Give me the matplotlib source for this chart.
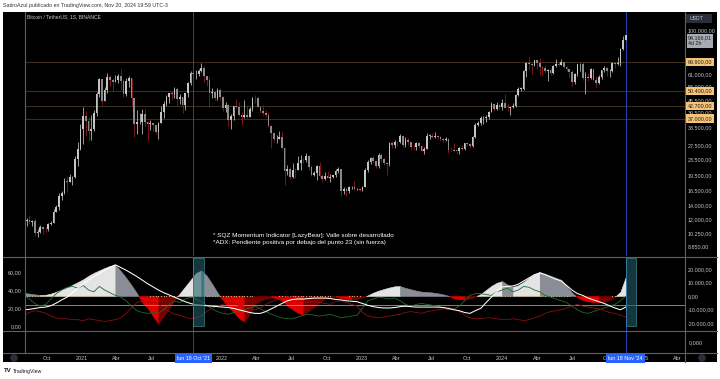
import numpy as np
import pandas as pd
import matplotlib
matplotlib.use("Agg")
import matplotlib.pyplot as plt
import matplotlib.dates as mdates
import matplotlib.transforms as mtrans
from matplotlib.patches import Rectangle, Circle
from matplotlib.ticker import NullLocator

plt.rcParams['font.family'] = ['Liberation Sans', 'DejaVu Sans']

# ---------------- DATA ----------------
first_week = "2020-08-03"          # weekly candles (1S), Monday start
first_open_k = 11.10

close_k = [
    # 2020
    11.68, 11.85, 11.65, 11.71, 10.25, 10.33, 10.92, 10.77, 10.67, 11.38, 11.50, 13.03, 13.76, 15.48, 15.96, 18.40,
    18.17, 19.15, 19.27, 23.47, 26.28, 33.00,
    # 2021
    38.15, 35.83, 32.26, 33.09, 39.25, 48.58, 57.49, 45.14, 50.97, 59.02, 57.35, 55.83, 57.06, 59.77, 56.15, 49.00,
    56.62, 58.24, 46.43, 34.66, 35.65, 35.80, 39.10, 35.50, 34.70, 35.29, 34.26, 31.78, 35.40, 39.85, 43.80, 47.05,
    49.30, 48.83, 51.75, 46.06, 47.26, 43.16, 49.23, 54.96, 61.53, 60.86, 61.30, 63.27, 65.50, 59.73, 57.27, 49.40,
    50.10, 46.68, 50.78, 47.30,
    # 2022
    41.86, 43.08, 36.28, 37.91, 42.40, 42.20, 38.38, 37.70, 38.42, 37.78, 41.26, 46.82, 46.40, 42.16, 40.38, 39.45,
    38.47, 34.06, 31.33, 29.43, 29.45, 29.92, 26.57, 20.55, 21.02, 19.30, 20.83, 20.79, 22.58, 23.30, 23.17, 24.30,
    21.52, 19.55, 19.99, 21.80, 19.42, 18.80, 19.31, 19.08, 19.20, 19.56, 20.63, 20.90, 16.33, 16.70, 16.46, 17.09,
    17.10, 16.78, 16.84, 16.61,
    # 2023
    17.13, 20.88, 22.71, 23.75, 22.93, 21.82, 24.64, 23.55, 22.43, 22.13, 27.99, 27.48, 28.47, 28.33, 30.30, 27.59,
    29.23, 28.43, 26.92, 26.75, 28.07, 27.12, 25.84, 26.33, 30.54, 30.59, 30.17, 30.29, 30.08, 29.28, 29.04, 29.43,
    26.09, 26.01, 25.84, 25.83, 26.53, 26.25, 27.98, 27.92, 27.16, 29.99, 34.53, 35.01, 37.06, 37.36, 37.45, 39.97,
    43.79, 41.37, 43.01, 42.28,
    # 2024
    43.94, 41.73, 41.58, 42.03, 42.58, 48.30, 51.66, 51.73, 63.11, 68.96, 68.37, 67.21, 71.28, 69.36, 65.66, 64.94,
    63.12, 63.89, 61.48, 66.94, 68.50, 67.76, 69.65, 66.20, 64.25, 62.68, 55.86, 60.79, 68.16, 68.25, 58.16, 58.71,
    58.43, 64.22, 57.30, 54.87, 59.19, 63.58, 65.60, 62.82, 62.85, 69.03, 67.94, 68.73, 80.37, 89.85, 94.17,
]

high_k = [
    12.05, 12.10, 12.47, 11.80, 12.09, 10.75, 11.18, 10.99, 10.95, 11.49, 11.72, 13.35, 14.10, 15.96, 16.48, 18.95,
    19.49, 19.92, 19.42, 24.30, 28.40, 34.80,
    41.95, 40.10, 37.85, 38.53, 40.95, 49.70, 58.35, 57.53, 52.64, 61.84, 60.63, 58.42, 60.20, 61.20, 64.85, 57.50,
    58.45, 59.60, 58.00, 46.66, 40.84, 39.48, 41.30, 41.00, 36.00, 36.60, 35.10, 34.60, 35.50, 42.60, 45.30, 48.15,
    49.50, 50.50, 52.90, 52.95, 48.80, 47.40, 49.40, 56.00, 62.90, 67.00, 63.70, 64.30, 69.00, 66.40, 59.40, 59.20,
    51.90, 50.40, 51.87, 52.10,
    47.57, 44.50, 43.50, 38.90, 42.65, 45.85, 44.75, 40.00, 45.40, 42.60, 42.30, 47.00, 48.20, 47.50, 42.40, 42.98,
    40.80, 40.00, 34.30, 31.45, 30.60, 32.20, 31.75, 26.90, 21.87, 21.55, 22.50, 21.20, 24.28, 24.67, 23.65, 25.20,
    24.45, 21.90, 20.58, 21.85, 22.80, 19.95, 20.35, 20.48, 19.95, 19.70, 21.10, 21.50, 21.05, 17.20, 16.90, 17.38,
    17.42, 18.40, 16.95, 16.98,
    17.40, 21.26, 23.35, 23.95, 24.25, 23.15, 25.25, 25.00, 23.88, 22.60, 28.50, 28.85, 29.20, 28.80, 31.00, 30.50,
    30.00, 29.80, 28.60, 27.67, 28.45, 28.45, 27.35, 26.80, 31.43, 31.00, 31.50, 31.80, 30.45, 30.35, 29.75, 30.25,
    29.70, 26.80, 28.14, 26.10, 26.85, 27.50, 28.05, 28.60, 28.00, 30.30, 35.20, 35.98, 37.98, 37.98, 38.42, 40.25,
    44.70, 43.45, 44.40, 43.70,
    45.88, 48.97, 43.58, 42.25, 43.85, 48.50, 52.82, 52.99, 64.00, 69.99, 73.78, 68.90, 71.73, 71.30, 72.80, 66.87,
    67.20, 64.75, 65.50, 67.70, 71.98, 70.00, 71.95, 70.20, 66.94, 64.50, 63.86, 61.40, 68.37, 69.40, 70.08, 62.75,
    61.80, 65.00, 64.48, 59.80, 60.65, 64.13, 66.50, 66.00, 64.48, 69.50, 69.50, 73.62, 81.50, 93.48, 94.90,
]

low_k = [
    10.95, 11.10, 11.36, 11.11, 9.88, 9.83, 10.20, 10.14, 10.37, 10.53, 11.20, 11.40, 12.95, 13.25, 14.80, 15.78,
    16.20, 18.10, 17.60, 19.00, 21.80, 26.00,
    27.70, 30.42, 28.85, 29.24, 32.30, 37.98, 47.00, 43.00, 45.00, 49.27, 53.25, 50.43, 55.53, 55.40, 51.00, 47.00,
    47.45, 52.90, 42.00, 30.00, 31.20, 34.80, 31.00, 34.00, 28.80, 32.70, 32.08, 31.00, 29.30, 35.20, 37.30, 42.80,
    43.90, 46.20, 46.50, 42.80, 43.40, 39.60, 40.80, 46.90, 54.00, 59.80, 57.80, 59.40, 62.30, 55.60, 53.25, 42.00,
    46.75, 45.50, 45.55, 45.70,
    40.50, 39.65, 34.00, 32.90, 36.30, 41.70, 38.00, 34.30, 37.15, 37.15, 37.55, 40.50, 44.20, 42.10, 39.20, 38.50,
    37.70, 33.70, 26.70, 28.60, 28.00, 29.30, 26.20, 17.60, 19.60, 18.70, 19.00, 18.90, 20.75, 20.70, 22.40, 22.65,
    20.75, 19.50, 19.50, 18.55, 19.30, 18.12, 18.50, 18.95, 18.20, 18.95, 19.20, 20.05, 15.60, 15.80, 15.47, 16.02,
    16.87, 16.55, 16.55, 16.35,
    16.50, 17.10, 20.40, 22.30, 22.50, 21.35, 21.35, 22.75, 21.97, 19.55, 21.80, 26.60, 26.50, 27.20, 28.20, 27.00,
    26.94, 27.65, 26.00, 26.10, 25.90, 26.60, 25.35, 24.80, 26.25, 29.50, 29.70, 29.90, 29.50, 28.85, 28.60, 28.75,
    25.20, 25.80, 25.35, 24.90, 24.90, 26.00, 26.00, 27.25, 26.50, 26.95, 29.90, 33.90, 34.55, 35.00, 35.65, 36.90,
    39.95, 40.22, 40.55, 41.30,
    40.75, 41.50, 40.28, 38.55, 41.80, 42.25, 47.70, 50.52, 50.90, 59.00, 64.55, 60.77, 66.50, 64.50, 60.66, 59.60,
    62.40, 56.55, 60.19, 60.75, 66.30, 66.60, 67.60, 65.08, 63.38, 58.40, 53.50, 54.26, 59.90, 63.45, 57.10, 49.00,
    56.10, 57.80, 57.20, 52.55, 54.60, 57.50, 62.70, 59.83, 58.90, 62.65, 65.10, 67.50, 66.80, 80.20, 89.40,
]

# Indicators, read every 2 weeks (same dates as every other candle)
sqz_mom_k = [
    2.2, 1.8, 1.2, 0.8, 0.9, 1.8, 3.2, 4.8, 6.3, 8.3,
    10.3, 12.4, 15.0, 17.2, 19.0, 20.8, 22.2, 23.0, 18.5, 13.5,
    8.0, 2.0, -5.0, -9.0, -15.0, -20.5, -15.0, -9.5, -3.0, 2.0,
    7.0, 12.0, 17.0, 19.0, 15.0, 9.0, 2.5, -3.0, -8.0, -12.0,
    -16.5, -19.0, -13.5, -6.0, -3.5, -2.0, -1.0, -1.5, -3.5, -7.0,
    -10.0, -12.5, -14.0, -11.0, -8.0, -5.0, -2.0, -1.0, -0.5, -1.5,
    -2.3, -2.5, -2.2, -1.0, 0.5, 2.5, 4.0, 5.2, 6.3, 7.2,
    7.3, 6.0, 5.0, 4.0, 3.2, 3.0, 2.6, 2.0, 1.2, 0.2,
    -1.8, -2.3, -2.6, -2.0, -0.5, 1.5, 4.5, 7.5, 9.8, 11.0,
    8.5, 6.8, 8.0, 10.5, 13.5, 16.0, 17.8, 16.5, 15.0, 13.5,
    12.0, 7.5, 2.5, -1.0, -3.0, -4.0, -4.4, -4.6, -4.3, -3.0,
    -0.5, 3.0, 14.0,
]

adx = [
    18, 18.5, 19.5, 20.5, 21, 22.5, 25.5, 29, 32, 37,
    42, 46.5, 51, 55, 58.5, 62, 65.5, 68, 65, 62,
    58.5, 55, 51, 47, 43.5, 40, 37, 34.5, 32, 29.5,
    27, 25, 23.5, 23, 22.5, 22, 21.5, 21, 20.5, 19.5,
    18, 16.5, 15, 14, 14, 16, 19, 22, 25, 28,
    29.5, 30, 30, 30.5, 31, 31, 31, 30.5, 29.5, 29,
    28, 27.5, 27, 25, 23, 21.5, 20.5, 20, 20, 20.5,
    21.5, 22, 21.5, 21, 21, 21, 21, 21, 20.5, 19.5,
    18, 17, 15, 14, 17, 19.5, 26, 32, 38, 43.5,
    44, 44.5, 46.5, 50, 53.5, 57, 59, 57, 54.5, 52,
    50, 45, 40, 36, 34, 31, 29, 27, 25, 22.5,
    20, 18, 21,
]

di_plus = [
    34, 30, 25, 22, 24, 30, 36, 40, 43, 44,
    42, 45, 40, 38, 44, 40, 37, 34, 32, 28,
    22, 17, 15, 14, 15, 14, 18, 24, 28, 26,
    30, 32, 30, 27, 23, 19, 16, 14, 13, 15,
    17, 18, 20, 22, 19, 16, 13, 11, 9, 8,
    8, 10, 12, 13, 12, 11, 12, 13, 11, 9,
    10, 11, 12, 20, 28, 30, 32, 31, 30, 31,
    28, 24, 22, 24, 25, 24, 23, 22, 20, 18,
    19, 22, 28, 34, 36, 36, 35, 34, 38, 40,
    42, 38, 40, 44, 43, 40, 38, 34, 32, 30,
    28, 26, 22, 18, 15, 14, 16, 18, 20, 22,
    24, 28, 33,
]

di_minus = [
    12, 15, 17, 16, 14, 11, 9, 8, 8, 7,
    7, 6, 8, 7, 6, 5, 6, 7, 9, 14,
    20, 26, 28, 27, 26, 24, 20, 16, 13, 12,
    10, 8, 9, 11, 16, 20, 22, 24, 26, 25,
    23, 22, 20, 18, 20, 24, 27, 29, 31, 33,
    32, 29, 27, 26, 27, 26, 25, 24, 27, 28,
    26, 24, 22, 15, 11, 10, 9, 10, 11, 12,
    13, 15, 16, 15, 14, 16, 17, 18, 19, 20,
    19, 16, 12, 9, 8, 8, 9, 9, 8, 7,
    7, 8, 7, 6, 7, 9, 11, 14, 16, 17,
    18, 20, 22, 24, 22, 21, 20, 19, 17, 15,
    14, 12, 10,
]

# periods where the squeeze dots are visible on the zero line
sqz_dot_ranges = [("2020-08-03", "2021-04-05"), ("2021-06-28", "2021-09-06"),
                  ("2021-11-22", "2022-03-21"), ("2022-05-30", "2022-10-10"),
                  ("2022-11-28", "2022-12-26"), ("2023-11-06", "2024-06-24"),
                  ("2024-10-14", "2024-11-18")]

adx_level = 23
key_levels = [69900, 50400, 42700, 37000]
price_ticks = [100000, 71000, 61000, 53000, 45500, 39500, 33500, 27500, 23500,
               19500, 16500, 14000, 12000, 10250, 8850]
mom_ticks = [-20000, -10000, 0, 10000, 20000]
adx_ticks = [0, 20, 40, 60]
marked_dates = ["2021-10-18", "2024-11-18"]
marked_labels = ["lun 18 Oct '21", "lun 18 Nov '24"]
time_ticks = ["2020-10-01", "2021-01-01", "2021-04-01", "2021-07-01", "2021-10-01",
              "2022-01-01", "2022-04-01", "2022-07-01", "2022-10-01", "2023-01-01",
              "2023-04-01", "2023-07-01", "2023-10-01", "2024-01-01", "2024-04-01",
              "2024-07-01", "2024-10-01", "2025-01-01", "2025-04-01"]
time_labels = ["Oct", "2021", "Abr", "Jul", "Oct", "2022", "Abr", "Jul", "Oct", "2023",
               "Abr", "Jul", "Oct", "2024", "Abr", "Jul", "Oct", "2025", "Abr"]
last_price_label = "94.166,01\n4d 2h"
header = "SatiroAzul publicado en TradingView.com, Nov 20, 2024 19:59 UTC-3"
title = "Bitcoin / TetherUS, 1S, BINANCE"
note1 = "* SQZ Momentum Indicator [LazyBear]: Valle sobre desarrollado"
note2 = "*ADX: Pendiente positiva por debajo del punto 23 (sin fuerza)"

# ---------------- PREP ----------------
def fmt2(v, dec=2):
    s = f"{v:,.{dec}f}"
    return s.replace(",", "X").replace(".", ",").replace("X", ".")

weeks = pd.date_range(first_week, periods=len(close_k), freq="7D")
xd = mdates.date2num(weeks)
c = np.array(close_k) * 1000
o = np.array([first_open_k] + close_k[:-1]) * 1000
h = np.maximum(np.array(high_k) * 1000, np.maximum(o, c))
l = np.minimum(np.array(low_k) * 1000, np.minimum(o, c))
ix = xd[::2]
mom = np.array(sqz_mom_k) * 1000

XLIM = (mdates.date2num(pd.Timestamp("2020-08-05 10:00")),
        mdates.date2num(pd.Timestamp("2025-04-21 12:00")))

W, H = 720, 379
fig = plt.figure(figsize=(W / 100, H / 100), dpi=100)
fig.patch.set_facecolor("white")


def box(x0, y0, x1, y1):
    return [x0 / W, 1 - y1 / H, (x1 - x0) / W, (y1 - y0) / H]


bg = fig.add_axes([0, 0, 1, 1], zorder=0)
bg.set_xlim(0, W); bg.set_ylim(H, 0); bg.axis("off")
bg.add_patch(Rectangle((3, 12), 714, 350, fc="black", ec="none"))

TXT = "#c5c8d0"
BLUE = "#2445b8"


def clean(a):
    a.set_facecolor("none")
    for s in a.spines.values():
        s.set_visible(False)
    a.set_xlim(*XLIM)
    a.set_xticks([])


# ---------------- PRICE PANE ----------------
ax = fig.add_axes(box(25, 12, 685, 256), zorder=2)
clean(ax)
ax.set_yscale("log")
ax.set_ylim(7910, 122400)
ax.yaxis.tick_right()
ax.set_yticks(price_ticks)
ax.set_yticklabels([fmt2(v) for v in price_ticks])
ax.yaxis.set_minor_locator(NullLocator())
ax.tick_params(axis="y", length=0, pad=2.2, labelsize=3.9, labelcolor=TXT)

for lv in key_levels:
    ax.axhline(lv, color="#3a2e1a", lw=0.8, zorder=1)
for d in marked_dates:
    ax.axvline(mdates.date2num(pd.Timestamp(d)), color=BLUE, lw=0.7, zorder=1)

up = c >= o
body_col = np.where(up, "#c4c4c4", "#8a8a8a")
wick_col = np.where(up, "#c4c4c4", "#9c1c26")
ax.vlines(xd, l, h, colors=wick_col, lw=0.55, zorder=3)
bot = np.minimum(o, c)
top_ = np.maximum(np.maximum(o, c), bot * 1.004)
ax.bar(xd, top_ - bot, bottom=bot, width=4.4, color=body_col, linewidth=0, zorder=4)

trans = mtrans.offset_copy(mtrans.blended_transform_factory(ax.transAxes, ax.transData),
                           fig=fig, x=3, y=0, units="dots")
for lv in key_levels:
    ax.text(1.0, lv, fmt2(lv), transform=trans, fontsize=3.9, color="#1a1a1a",
            va="center", ha="left", clip_on=False, zorder=30,
            bbox=dict(boxstyle="square,pad=0.3", fc="#f6c477", ec="none"))
trans2 = mtrans.offset_copy(mtrans.blended_transform_factory(ax.transAxes, ax.transData),
                            fig=fig, x=3, y=0, units="dots")
ax.text(1.0, c[-1], last_price_label, transform=trans2, fontsize=3.9, color="#1a1a1a",
        va="top", ha="left", clip_on=False, zorder=30, linespacing=1.25,
        bbox=dict(boxstyle="square,pad=0.25", fc="#a8abb4", ec="none"))

# ---------------- INDICATOR PANE ----------------
im = fig.add_axes(box(25, 257, 685, 331), zorder=2)
clean(im)
im.set_ylim(-25926, 28889)

COL_UP_POS, COL_DN_POS = "#e4e4e4", "#8a8d96"
COL_DN_NEG, COL_UP_NEG = "#e00000", "#7a0000"

# split the series at zero crossings, colour each piece by sign and slope,
# then fill contiguous pieces of one colour as a single polygon
pieces = []
for i in range(len(ix) - 1):
    x0, x1, v0, v1 = ix[i], ix[i + 1], mom[i], mom[i + 1]
    rising = v1 > v0
    if v0 * v1 < 0:
        xc = x0 + (x1 - x0) * v0 / (v0 - v1)
        segs = [(x0, xc, v0, 0.0), (xc, x1, 0.0, v1)]
    else:
        segs = [(x0, x1, v0, v1)]
    for a, b, va, vb in segs:
        if va + vb >= 0:
            col = COL_UP_POS if rising else COL_DN_POS
        else:
            col = COL_UP_NEG if rising else COL_DN_NEG
        pieces.append((a, b, va, vb, col))

run_x, run_y, run_c = [], [], None
def flush():
    if run_x:
        im.fill_between(run_x, run_y, 0, color=run_c, lw=0.4, ec=run_c, zorder=2)
for a, b, va, vb, col in pieces:
    if col != run_c:
        flush()
        run_x, run_y, run_c = [a], [va], col
    run_x.append(b); run_y.append(vb)
flush()

mask = np.zeros(len(xd), bool)
for a, b in sqz_dot_ranges:
    mask |= (weeks >= pd.Timestamp(a)) & (weeks <= pd.Timestamp(b))
im.plot(xd[mask], np.zeros(mask.sum()), ls="none", marker="s", ms=0.8,
        mew=0, color="#b8ab72", zorder=3)

ia = im.twinx()
ia.set_zorder(3)
clean(ia)
ia.set_ylim(-5.6, 76.7)
# momentum scale on the right, ADX scale on the left
im.yaxis.tick_right()
im.set_yticks(mom_ticks)
im.set_yticklabels([fmt2(v) for v in mom_ticks])
im.tick_params(axis="y", length=0, pad=2.2, labelsize=3.9, labelcolor=TXT,
               left=False, labelleft=False, right=True, labelright=True)
ia.yaxis.tick_left()
ia.set_yticks(adx_ticks)
ia.set_yticklabels([fmt2(v) for v in adx_ticks])
ia.tick_params(axis="y", length=0, pad=2.2, labelsize=3.9, labelcolor=TXT,
               right=False, labelright=False, left=True, labelleft=True)
ia.axhline(adx_level, color="#9598a1", lw=0.6, zorder=1)
ia.plot(ix, di_plus, color="#1f6a2a", lw=0.6, zorder=2)
ia.plot(ix, di_minus, color="#8a1010", lw=0.6, zorder=2)
ia.plot(ix, adx, color="white", lw=0.75, zorder=3)
for d in marked_dates:
    dn = mdates.date2num(pd.Timestamp(d))
    ia.axvline(dn, color=BLUE, lw=0.7, zorder=4)
    ia.add_patch(Rectangle((dn, 0), 28, 75.5, fc="#1f5f66", alpha=0.6,
                           ec="#5aa6ab", lw=0.6, zorder=5))

# ---------------- EMPTY PANE + TIME AXIS ----------------
a3 = fig.add_axes(box(25, 331, 685, 353), zorder=2)
clean(a3)
a3.set_ylim(-1, 1)
a3.yaxis.tick_right()
a3.set_yticks([0])
a3.set_yticklabels([fmt2(0, 3)])
a3.tick_params(axis="y", length=0, pad=3, labelsize=3.9, labelcolor=TXT)
a3.set_xticks(mdates.date2num(pd.to_datetime(time_ticks)))
a3.set_xticklabels(time_labels)
a3.tick_params(axis="x", length=0, pad=1.8, labelsize=3.9, labelcolor=TXT)
for d, lab in zip(marked_dates, marked_labels):
    dn = mdates.date2num(pd.Timestamp(d))
    a3.axvline(dn, color=BLUE, lw=0.7)
    a3.annotate(lab, xy=(dn, 0), xycoords=("data", "axes fraction"),
                xytext=(0, -4.1), textcoords="offset points", ha="center", va="center",
                fontsize=3.9, color="white", zorder=20, annotation_clip=False,
                bbox=dict(boxstyle="square,pad=0.4", fc="#2962ff", ec="none"))

# ---------------- CHROME OVERLAY ----------------
ov = fig.add_axes([0, 0, 1, 1], zorder=10)
ov.set_xlim(0, W); ov.set_ylim(H, 0); ov.axis("off")
SEP = "#5d606b"
for yy in (256.5, 331, 353):
    ov.plot([3, 717], [yy, yy], color=SEP, lw=0.8)
ov.plot([25, 25], [12, 353], color=SEP, lw=0.8)
ov.plot([685, 685], [12, 362], color=SEP, lw=0.8)
ov.add_patch(Rectangle((686, 13.5), 26, 9, fc="#2a2e39", ec="none"))
ov.text(690, 18, "USDT", fontsize=3.7, color=TXT, va="center", ha="left")
ov.text(3, 6, header, fontsize=3.8, color="#333333", va="center", ha="left")
ov.text(27, 17, title, fontsize=3.6, color=TXT, va="center", ha="left")
ov.text(213, 235, note1, fontsize=4.6, color="white", va="center", ha="left")
ov.text(213, 242.5, note2, fontsize=4.6, color="white", va="center", ha="left")
ov.add_patch(Circle((14, 358), 3.8, fc="#2a2e39", ec="none"))
ov.add_patch(Circle((702, 358), 3.8, fc="#2a2e39", ec="none"))
ov.text(4, 371, "TV", fontsize=4.4, fontweight="bold", color="#131722", va="center", ha="left")
ov.text(13, 371, "TradingView", fontsize=3.8, color="#131722", va="center", ha="left")

fig.savefig("out.png", dpi=100, facecolor="white")
